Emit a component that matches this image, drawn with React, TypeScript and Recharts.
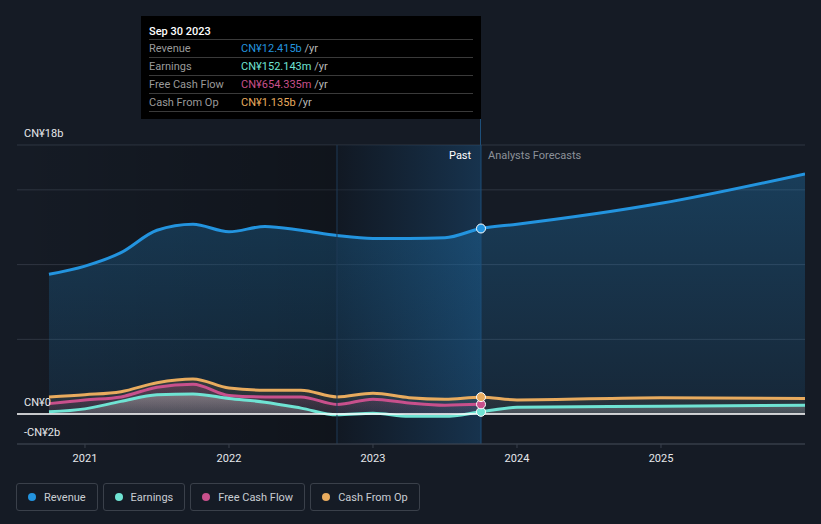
import {
  Area,
  CartesianGrid,
  ComposedChart,
  ReferenceArea,
  ReferenceDot,
  ReferenceLine,
  XAxis,
  YAxis,
} from 'recharts'

// time in fractional years (quarter ends, then annual forecasts)
const PERIODS = [
  2020.75, 2021.0, 2021.25, 2021.5, 2021.75, 2022.0, 2022.25, 2022.5, 2022.75, 2023.0, 2023.25,
  2023.5, 2023.75, 2024.0, 2025.0, 2026.0,
]
// values in CN¥ billions
const REVENUE = [
  9.35, 9.9, 10.8, 12.3, 12.7, 12.2, 12.55, 12.3, 11.95, 11.75, 11.75, 11.8, 12.415, 12.7, 14.1,
  16.07,
]
const EARNINGS = [
  0.15, 0.35, 0.85, 1.3, 1.35, 1.05, 0.8, 0.4, -0.05, 0.05, -0.15, -0.15, 0.152, 0.45, 0.52, 0.6,
]
const FREE_CASH_FLOW: (number | null)[] = [
  0.7, 0.95, 1.15, 1.8, 2.0, 1.25, 1.15, 1.15, 0.65, 1.0, 0.75, 0.6, 0.654, null, null, null,
]
const CASH_FROM_OP = [
  1.15, 1.3, 1.5, 2.1, 2.35, 1.75, 1.6, 1.6, 1.15, 1.4, 1.1, 1.0, 1.135, 0.95, 1.1, 1.05,
]

const X_TICKS = [2021, 2022, 2023, 2024, 2025]
const Y_TICKS = [-2, 0, 5, 10, 15, 18]
const Y_LABELS: Record<string, string> = { '18': 'CN¥18b', '0': 'CN¥0', '-2': '-CN¥2b' }

const PAST_END = 2023.75
const HOVER_START = 2022.75
const X_DOMAIN: [number, number] = [2020.528, 2026.0]

const TOOLTIP_ROWS = [
  { label: 'Revenue', value: 'CN¥12.415b', color: '#2394df' },
  { label: 'Earnings', value: 'CN¥152.143m', color: '#6fe3d3' },
  { label: 'Free Cash Flow', value: 'CN¥654.335m', color: '#c8508c' },
  { label: 'Cash From Op', value: 'CN¥1.135b', color: '#e8ab5e' },
]

const SERIES = [
  { key: 'revenue', label: 'Revenue', color: '#2394df', values: REVENUE },
  { key: 'earnings', label: 'Earnings', color: '#6fe3d3', values: EARNINGS },
  { key: 'fcf', label: 'Free Cash Flow', color: '#c8508c', values: FREE_CASH_FLOW },
  { key: 'cfo', label: 'Cash From Op', color: '#e8ab5e', values: CASH_FROM_OP },
]

const FONT = 'Roboto, "Open Sans", sans-serif'

function renderYTick(props: any) {
  const { y, payload } = props
  const text = Y_LABELS[String(payload.value)]
  if (!text) return <g />
  return (
    <text x={24} y={y - 8} fill="#e6e8eb" fontSize={11} fontFamily={FONT} textAnchor="start">
      {text}
    </text>
  )
}

export default function App() {
  const data = PERIODS.map((t, i) => ({
    t,
    revenue: REVENUE[i],
    earnings: EARNINGS[i],
    fcf: FREE_CASH_FLOW[i],
    cfo: CASH_FROM_OP[i],
  }))

  const last = PERIODS.indexOf(PAST_END)

  return (
    <div
      style={{
        position: 'fixed',
        left: 0,
        top: 0,
        width: 821,
        height: 524,
        background: '#151b25',
        fontFamily: FONT,
        overflow: 'hidden',
      }}
    >
      <ComposedChart
        width={821}
        height={524}
        data={data}
        margin={{ top: 145, right: 16, left: 0, bottom: 50 }}
      >
        <defs>
          <linearGradient id="pastShade" x1="0" y1="0" x2="1" y2="0">
            <stop offset="0%" stopColor="#000" stopOpacity={0} />
            <stop offset="100%" stopColor="#000" stopOpacity={0.25} />
          </linearGradient>
          <linearGradient id="hoverShade" x1="0" y1="0" x2="1" y2="0">
            <stop offset="0%" stopColor="#0a1420" stopOpacity={0.35} />
            <stop offset="100%" stopColor="#1a5a90" stopOpacity={0.38} />
          </linearGradient>
          <linearGradient id="revFill" x1="0" y1="0" x2="0" y2="1">
            <stop offset="0%" stopColor="#2394df" stopOpacity={0.28} />
            <stop offset="100%" stopColor="#2394df" stopOpacity={0.1} />
          </linearGradient>
          <linearGradient id="cfoFill" x1="0" y1="0" x2="0" y2="1">
            <stop offset="0%" stopColor="#e8ab5e" stopOpacity={0.15} />
            <stop offset="100%" stopColor="#e8ab5e" stopOpacity={0.05} />
          </linearGradient>
          <linearGradient id="fcfFill" x1="0" y1="0" x2="0" y2="1">
            <stop offset="0%" stopColor="#c8508c" stopOpacity={0.25} />
            <stop offset="100%" stopColor="#c8508c" stopOpacity={0.08} />
          </linearGradient>
          <linearGradient id="earnFill" x1="0" y1="0" x2="0" y2="1">
            <stop offset="0%" stopColor="#b0b0b0" stopOpacity={0.5} />
            <stop offset="100%" stopColor="#b0b0b0" stopOpacity={0.2} />
          </linearGradient>
        </defs>

        <ReferenceArea x1={X_DOMAIN[0]} x2={HOVER_START} fill="url(#pastShade)" fillOpacity={1} />
        <ReferenceArea x1={HOVER_START} x2={PAST_END} fill="url(#hoverShade)" fillOpacity={1} />

        <CartesianGrid vertical={false} stroke="#2f3642" strokeWidth={1} />

        <XAxis
          dataKey="t"
          type="number"
          domain={X_DOMAIN}
          ticks={X_TICKS}
          allowDataOverflow
          stroke="#3a414c"
          tickLine={{ stroke: '#3a414c' }}
          tickSize={4}
          tick={{ fill: '#e6e8eb', fontSize: 11, fontFamily: FONT, dy: 4 }}
          tickFormatter={(v) => String(v)}
          height={30}
        />
        <YAxis
          type="number"
          domain={[-2, 18]}
          ticks={Y_TICKS}
          width={17}
          axisLine={false}
          tickLine={false}
          tick={renderYTick}
          interval={0}
          allowDataOverflow
        />

        <ReferenceLine x={HOVER_START} stroke="#1f3a55" strokeWidth={1} />

        <Area
          type="monotone"
          dataKey="revenue"
          stroke="#2394df"
          strokeWidth={3}
          fill="url(#revFill)"
          fillOpacity={1}
          isAnimationActive={false}
          dot={false}
          activeDot={false}
        />
        <Area
          type="monotone"
          dataKey="cfo"
          stroke="#e8ab5e"
          strokeWidth={3}
          fill="url(#cfoFill)"
          fillOpacity={1}
          isAnimationActive={false}
          dot={false}
          activeDot={false}
        />
        <Area
          type="monotone"
          dataKey="fcf"
          stroke="#c8508c"
          strokeWidth={3}
          fill="url(#fcfFill)"
          fillOpacity={1}
          isAnimationActive={false}
          dot={false}
          activeDot={false}
        />
        <Area
          type="monotone"
          dataKey="earnings"
          stroke="#6fe3d3"
          strokeWidth={3}
          fill="url(#earnFill)"
          fillOpacity={1}
          isAnimationActive={false}
          dot={false}
          activeDot={false}
        />

        <ReferenceLine y={0} stroke="#ffffff" strokeWidth={1.5} />
        <ReferenceLine x={PAST_END} stroke="#1d4f7a" strokeWidth={1} />

        {SERIES.map((s) => (
          <ReferenceDot
            key={s.key}
            x={PAST_END}
            y={s.values[last] as number}
            r={4.5}
            fill={s.color}
            stroke="#ffffff"
            strokeWidth={1}
          />
        ))}
      </ComposedChart>

      {/* cursor line from tooltip down to plot */}
      <div
        style={{
          position: 'absolute',
          left: 480,
          top: 119,
          width: 1,
          height: 26,
          background: '#1d4f7a',
        }}
      />

      <div style={{ position: 'absolute', left: 449, top: 149, fontSize: 11, color: '#ffffff' }}>
        Past
      </div>
      <div style={{ position: 'absolute', left: 488, top: 149, fontSize: 11, color: '#8c9199' }}>
        Analysts Forecasts
      </div>

      <div
        style={{
          position: 'absolute',
          left: 141,
          top: 16,
          width: 340,
          height: 103,
          background: '#000000',
          boxSizing: 'border-box',
          padding: '8px 8px 0 8px',
          fontSize: 11,
        }}
      >
        <div style={{ color: '#ffffff', fontWeight: 500, height: 15, lineHeight: '15px' }}>
          Sep 30 2023
        </div>
        {TOOLTIP_ROWS.map((row) => (
          <div
            key={row.label}
            style={{
              display: 'flex',
              borderTop: '1px solid #3a3a3a',
              height: 18,
              boxSizing: 'border-box',
              lineHeight: '17px',
            }}
          >
            <span style={{ width: 92, color: '#9a9a9a' }}>{row.label}</span>
            <span style={{ color: row.color }}>{row.value}</span>
            <span style={{ color: '#b8b8b8' }}>&nbsp;/yr</span>
          </div>
        ))}
        <div style={{ borderTop: '1px solid #3a3a3a' }} />
      </div>

      <div style={{ position: 'absolute', left: 16, top: 483, display: 'flex', gap: 5 }}>
        {SERIES.map((s) => (
          <div
            key={s.key}
            style={{
              display: 'flex',
              alignItems: 'center',
              height: 26,
              border: '1px solid #3a404a',
              borderRadius: 3,
              padding: '0 11px 0 11px',
              fontSize: 11,
              color: '#c9cdd3',
            }}
          >
            <span
              style={{
                width: 8,
                height: 8,
                borderRadius: '50%',
                background: s.color,
                marginRight: 8,
                display: 'inline-block',
              }}
            />
            {s.label}
          </div>
        ))}
      </div>
    </div>
  )
}
